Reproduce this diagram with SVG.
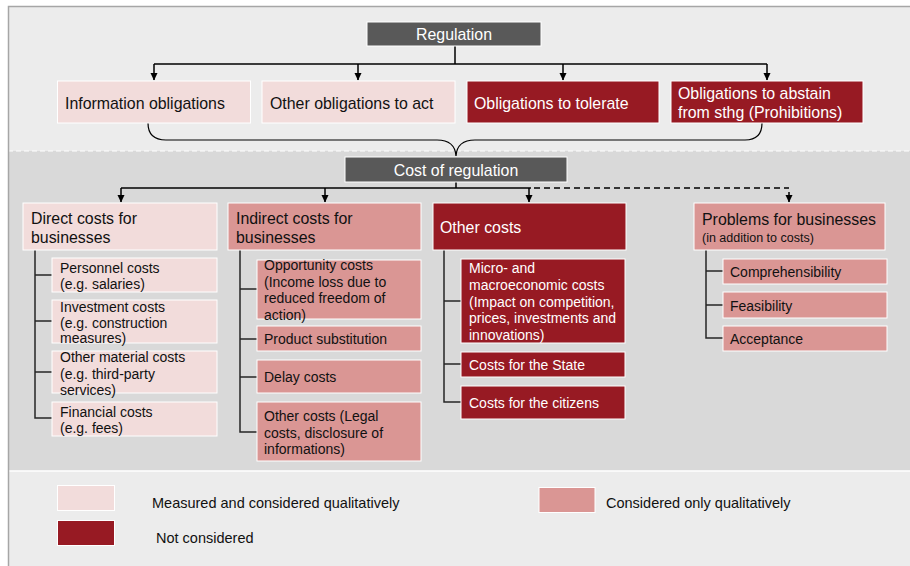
<svg xmlns="http://www.w3.org/2000/svg" width="910" height="566" viewBox="0 0 910 566">
<defs>
<marker id="ah" markerWidth="8" markerHeight="8" refX="7" refY="4" orient="auto" markerUnits="userSpaceOnUse" viewBox="0 0 8 8">
<path d="M0,0.5 L7.5,4 L0,7.5 Z" fill="#000"/>
</marker>
<style>
text{font-family:"Liberation Sans",Arial,sans-serif;}
.lp{fill:#f2dcdb;stroke:#fff;stroke-width:1;}
.mp{fill:#da9694;stroke:#fff;stroke-width:1;}
.dr{fill:#971a23;stroke:#fff;stroke-width:1;}
.gr{fill:#595959;stroke:#fff;stroke-width:1;}
.t16{font-size:15.9px;fill:#111;}
.w16{font-size:15.9px;fill:#fff;}
.t14{font-size:14px;fill:#111;}
.w14{font-size:14px;fill:#fff;}
.t12{font-size:12.5px;fill:#111;}
.lg{font-size:14.5px;fill:#111;}
.ln{fill:none;stroke:#000;stroke-width:1.5;}
.tr{fill:none;stroke:#262626;stroke-width:1.5;}
.ds{fill:none;stroke:#000;stroke-width:1.5;stroke-dasharray:6,4;}
</style>
</defs>
<rect x="0" y="0" width="910" height="566" fill="#fff"/>
<rect x="8" y="6" width="910" height="145" fill="#ececec"/>
<rect x="8" y="151" width="910" height="320" fill="#d9d9d9"/>
<rect x="8" y="471" width="910" height="95" fill="#ececec"/>
<line x1="8" y1="151" x2="910" y2="151" stroke="#fff" stroke-width="1" stroke-dasharray="5,3"/>
<line x1="8" y1="471" x2="910" y2="471" stroke="#fff" stroke-width="1.5"/>
<path d="M8.5,566 L8.5,6.5 L910,6.5" fill="none" stroke="#a6a6a6" stroke-width="1.5"/>

<g id="connectors">
<path class="ln" d="M455,46 L455,64"/>
<path class="ln" d="M154,64 L767,64"/>
<path class="ln" d="M154,64 L154,80" marker-end="url(#ah)"/>
<path class="ln" d="M358,64 L358,80" marker-end="url(#ah)"/>
<path class="ln" d="M563,64 L563,80" marker-end="url(#ah)"/>
<path class="ln" d="M767,64 L767,80" marker-end="url(#ah)"/>
<path class="ln" style="stroke-width:1.2" d="M148,123 Q148,140 166,140 L437,140 Q455,140 456,156 Q457,140 475,140 L745,140 Q762,140 762,123"/>
<path class="ln" d="M456,182 L456,188"/>
<path class="ln" d="M121,188 L531,188"/>
<path class="ds" d="M534,188 L789,188"/>
<path class="ln" d="M121,188 L121,202" marker-end="url(#ah)"/>
<path class="ln" d="M325,188 L325,202" marker-end="url(#ah)"/>
<path class="ln" d="M529,188 L529,202" marker-end="url(#ah)"/>
<path class="ln" d="M789,192 L789,202" marker-end="url(#ah)"/>
<path class="tr" d="M35,250 L35,418 L52,418 M35,275 L52,275 M35,321 L52,321 M35,372 L52,372"/>
<path class="tr" d="M240,250 L240,432 L257,432 M240,289 L257,289 M240,339 L257,339 M240,377 L257,377"/>
<path class="tr" d="M444,250 L444,402 L461,402 M444,301 L461,301 M444,364 L461,364"/>
<path class="tr" d="M706,250 L706,338 L723,338 M706,271 L723,271 M706,305 L723,305"/>
</g>

<g id="regulation"><rect class="gr" x="367" y="22" width="174" height="24"/><text class="w16" x="454" y="40" text-anchor="middle">Regulation</text></g>
<g id="info-obligations"><rect class="lp" x="57.5" y="81" width="193" height="42"/><text class="t16" x="65" y="109">Information obligations</text></g>
<g id="other-obligations"><rect class="lp" x="262" y="81" width="193" height="42"/><text class="t16" x="270" y="109">Other obligations to act</text></g>
<g id="tolerate"><rect class="dr" x="467" y="81" width="192" height="42"/><text class="w16" x="474" y="109">Obligations to tolerate</text></g>
<g id="prohibitions"><rect class="dr" x="671" y="81" width="192" height="42"/><text class="w16" x="678" y="99">Obligations to abstain</text><text class="w16" x="678" y="118">from sthg (Prohibitions)</text></g>

<g id="cost-of-regulation"><rect class="gr" x="345" y="157" width="222" height="25"/><text class="w16" x="456" y="176" text-anchor="middle">Cost of regulation</text></g>

<g id="direct"><rect class="lp" x="23" y="203" width="194" height="47"/><text class="t16" x="31" y="224">Direct costs for</text><text class="t16" x="31" y="243">businesses</text></g>
<g id="indirect"><rect class="mp" x="228" y="203" width="193" height="47"/><text class="t16" x="236" y="224">Indirect costs for</text><text class="t16" x="236" y="243">businesses</text></g>
<g id="other-costs"><rect class="dr" x="433" y="203" width="193" height="47"/><text class="w16" x="440" y="233">Other costs</text></g>
<g id="problems"><rect class="mp" x="694" y="203" width="191" height="47"/><text class="t16" x="702" y="225">Problems for businesses</text><text class="t12" x="702" y="242">(in addition to costs)</text></g>

<g id="personnel"><rect class="lp" x="52" y="258" width="165" height="34"/><text class="t14" x="60" y="273">Personnel costs</text><text class="t14" x="60" y="289">(e.g. salaries)</text></g>
<g id="investment"><rect class="lp" x="52" y="300" width="165" height="43"/><text class="t14" x="60" y="312">Investment costs</text><text class="t14" x="60" y="328">(e.g. construction</text><text class="t14" x="60" y="343">measures)</text></g>
<g id="material"><rect class="lp" x="52" y="351" width="165" height="42"/><text class="t14" x="60" y="362">Other material costs</text><text class="t14" x="60" y="379">(e.g. third-party</text><text class="t14" x="60" y="395">services)</text></g>
<g id="financial"><rect class="lp" x="52" y="402" width="165" height="34"/><text class="t14" x="60" y="417">Financial costs</text><text class="t14" x="60" y="433">(e.g. fees)</text></g>

<g id="opportunity"><rect class="mp" x="257" y="260" width="164" height="59"/><text class="t14" x="264" y="270">Opportunity costs</text><text class="t14" x="264" y="287">(Income loss due to</text><text class="t14" x="264" y="303">reduced freedom of</text><text class="t14" x="264" y="320">action)</text></g>
<g id="substitution"><rect class="mp" x="257" y="326" width="164" height="25"/><text class="t14" x="264" y="344">Product substitution</text></g>
<g id="delay"><rect class="mp" x="257" y="360" width="164" height="33"/><text class="t14" x="264" y="382">Delay costs</text></g>
<g id="other-legal"><rect class="mp" x="257" y="402" width="164" height="59"/><text class="t14" x="264" y="421">Other costs (Legal</text><text class="t14" x="264" y="438">costs, disclosure of</text><text class="t14" x="264" y="454">informations)</text></g>

<g id="micro"><rect class="dr" x="461" y="259" width="164" height="84"/><text class="w14" x="469" y="273">Micro- and</text><text class="w14" x="469" y="290">macroeconomic costs</text><text class="w14" x="469" y="307">(Impact on competition,</text><text class="w14" x="469" y="323">prices, investments and</text><text class="w14" x="469" y="340">innovations)</text></g>
<g id="state"><rect class="dr" x="461" y="352" width="164" height="25"/><text class="w14" x="469" y="370">Costs for the State</text></g>
<g id="citizens"><rect class="dr" x="461" y="386" width="164" height="33"/><text class="w14" x="469" y="408">Costs for the citizens</text></g>

<g id="comprehensibility"><rect class="mp" x="723" y="259" width="164" height="25"/><text class="t14" x="730" y="277">Comprehensibility</text></g>
<g id="feasibility"><rect class="mp" x="723" y="292" width="164" height="26"/><text class="t14" x="730" y="311">Feasibility</text></g>
<g id="acceptance"><rect class="mp" x="723" y="326" width="164" height="25"/><text class="t14" x="730" y="344">Acceptance</text></g>

<g id="legend">
<rect class="lp" x="57.5" y="485.5" width="57" height="25"/><text class="lg" x="152" y="508">Measured and considered qualitatively</text>
<rect class="dr" x="57.5" y="520.5" width="57" height="25"/><text class="lg" x="156" y="543">Not considered</text>
<rect class="mp" x="539" y="487.5" width="56" height="25"/><text class="lg" x="606" y="508">Considered only qualitatively</text>
</g>
</svg>
